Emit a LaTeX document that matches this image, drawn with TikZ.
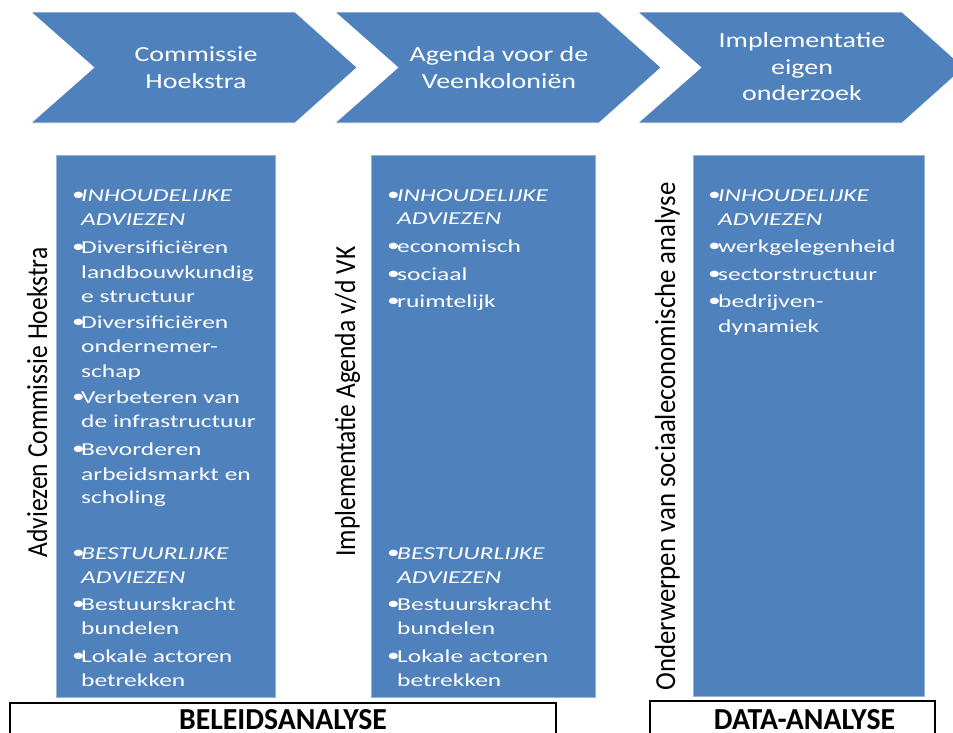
\documentclass[tikz,border=0pt]{standalone}
\usepackage{fontspec}
\setmainfont{Carlito}
\newfontfamily\chevfont{Carlito}[FakeStretch=1.3]
\newfontfamily\boxfont{Carlito}[FakeStretch=1.4]
\newfontfamily\vfont{Carlito}[FakeStretch=0.88]
\newfontfamily\vfontw{Carlito}[FakeStretch=0.925]
\newfontfamily\labfont{Carlito}[FakeStretch=0.975]
\definecolor{ppblue}{RGB}{79,129,189}
\definecolor{ppedge}{RGB}{150,180,215}
\newcommand\bul[1]{\makebox[#1][l]{\raisebox{1pt}{•}}}
\begin{document}
\begin{tikzpicture}[x=1pt,y=-1pt,
  chev/.style={fill=ppblue, draw=white, line width=0.6pt},
  colbox/.style={fill=ppblue, draw=ppedge, line width=0.6pt},
  chevtxt/.style={text=white, anchor=base, inner sep=0pt, font=\chevfont\fontsize{21.5}{27}\selectfont},
  btxt/.style={text=white, anchor=base west, inner sep=0pt, font=\boxfont\fontsize{18.2}{24}\selectfont},
  vlab/.style={rotate=90, anchor=base, inner sep=0pt, text=black},
  labbox/.style={draw=black, line width=1.5pt},
  labtxt/.style={anchor=base, inner sep=0pt, font=\labfont\bfseries\fontsize{30.5}{34}\selectfont}]
\path[use as bounding box] (0,0) rectangle (953,732);
\clip (0,0) rectangle (953,732);
\fill[white] (0,0) rectangle (953,732);

% chevrons
\foreach \L in {31,335,638}{
  \draw[chev] (\L,12) -- (\L+264,12) -- (\L+326,67.5) -- (\L+264,123) -- (\L,123) -- (\L+63,67.5) -- cycle;
}
\node[chevtxt] (c1a) at (196,61) {Commissie};
\node[chevtxt] (c1b) at (196,88) {Hoekstra};
\node[chevtxt] (c2a) at (499,61) {Agenda voor de};
\node[chevtxt] (c2b) at (499,88) {Veenkoloniën};
\node[chevtxt] (c3a) at (802,47) {Implementatie};
\node[chevtxt] (c3b) at (802,74) {eigen};
\node[chevtxt] (c3c) at (802,100) {onderzoek};

% columns
\draw[colbox] (56,155) rectangle (275,697);
\draw[colbox] (371,155) rectangle (595,697);
\draw[colbox] (693,155) rectangle (924,696);

% box 1
\node[btxt] (a1) at (72,201) {\bul{9pt}\textit{INHOUDELIJKE}};
\node[btxt] (a2) at (81,225) {\textit{ADVIEZEN}};
\node[btxt] (a3) at (72,253) {\bul{9pt}Diversificiëren};
\node[btxt] (a4) at (81,278) {landbouwkundig};
\node[btxt] (a5) at (81,302) {e structuur};
\node[btxt] (a6) at (72,328) {\bul{9pt}Diversificiëren};
\node[btxt] (a7) at (81,352) {ondernemer-};
\node[btxt] (a8) at (81,377) {schap};
\node[btxt] (a9) at (72,403) {\bul{9pt}Verbeteren van};
\node[btxt] (a10) at (81,427) {de infrastructuur};
\node[btxt] (a11) at (72,455) {\bul{9pt}Bevorderen};
\node[btxt] (a12) at (81,480) {arbeidsmarkt en};
\node[btxt] (a13) at (81,503) {scholing};
\node[btxt] (a14) at (72,559) {\bul{9pt}\textit{BESTUURLIJKE}};
\node[btxt] (a15) at (81,583) {\textit{ADVIEZEN}};
\node[btxt] (a16) at (72,610) {\bul{9pt}Bestuurskracht};
\node[btxt] (a17) at (81,634) {bundelen};
\node[btxt] (a18) at (72,662) {\bul{9pt}Lokale actoren};
\node[btxt] (a19) at (81,686) {betrekken};

% box 2
\node[btxt] (b1) at (387,201) {\bul{10pt}\textit{INHOUDELIJKE}};
\node[btxt] (b2) at (397,224) {\textit{ADVIEZEN}};
\node[btxt] (b3) at (387,252) {\bul{10pt}economisch};
\node[btxt] (b4) at (387,280) {\bul{10pt}sociaal};
\node[btxt] (b5) at (387,307) {\bul{10pt}ruimtelijk};
\node[btxt] (b6) at (387,559) {\bul{10pt}\textit{BESTUURLIJKE}};
\node[btxt] (b7) at (397,583) {\textit{ADVIEZEN}};
\node[btxt] (b8) at (387,610) {\bul{10pt}Bestuurskracht};
\node[btxt] (b9) at (397,634) {bundelen};
\node[btxt] (b10) at (387,662) {\bul{10pt}Lokale actoren};
\node[btxt] (b11) at (397,686) {betrekken};

% box 3
\node[btxt] (d1) at (708,201) {\bul{10pt}\textit{INHOUDELIJKE}};
\node[btxt] (d2) at (718,225) {\textit{ADVIEZEN}};
\node[btxt] (d3) at (708,252) {\bul{10pt}werkgelegenheid};
\node[btxt] (d4) at (708,280) {\bul{10pt}sectorstructuur};
\node[btxt] (d5) at (708,307) {\bul{10pt}bedrijven-};
\node[btxt] (d6) at (718,332) {dynamiek};

% vertical labels
\node[vlab, font=\vfont\fontsize{29}{30}\selectfont] (v1) at (47,402.5) {Adviezen Commissie Hoekstra};
\node[vlab, font=\vfont\fontsize{29}{30}\selectfont] (v2) at (355,401.5) {Implementatie Agenda v/d VK};
\node[vlab, font=\vfontw\fontsize{29}{30}\selectfont] (v3) at (675,436.5) {Onderwerpen van sociaaleconomische analyse};

% bottom labels
\draw[labbox] (10,703) rectangle (556,760);
\node[labtxt] (beleid) at (283,729.5) {BELEIDSANALYSE};
\draw[labbox] (650,701) rectangle (935,760);
\node[labtxt] (data) at (804.5,729.5) {DATA-ANALYSE};
\end{tikzpicture}
\end{document}
